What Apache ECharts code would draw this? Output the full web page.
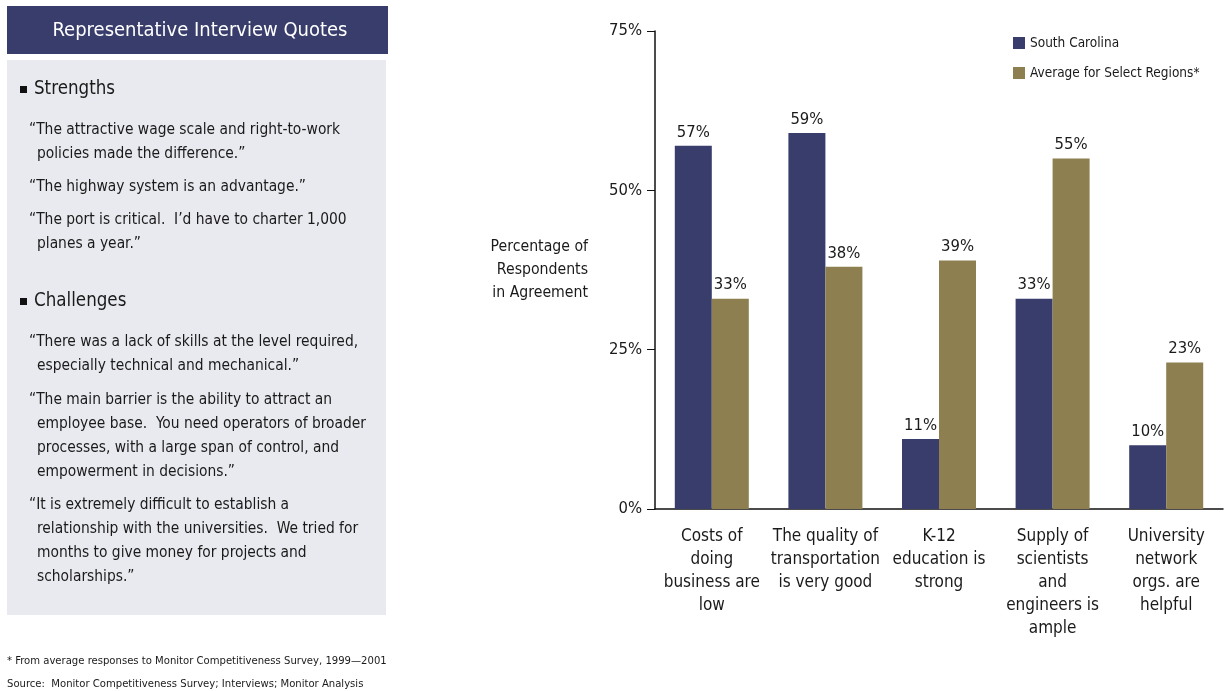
<!DOCTYPE html>
<html>
<head>
<meta charset="utf-8">
<script src="https://cdn.jsdelivr.net/npm/echarts@6/dist/echarts.min.js"></script>
<style>
  html, body { margin: 0; padding: 0; background: #ffffff; }
  #chart { width: 1224px; height: 691px; }
</style>
</head>
<body>
<div id="chart"></div>
<script>
// Survey results: share of respondents agreeing with each statement
const categories = [
  'Costs of\ndoing\nbusiness are\nlow',
  'The quality of\ntransportation\nis very good',
  'K-12\neducation is\nstrong',
  'Supply of\nscientists\nand\nengineers is\nample',
  'University\nnetwork\norgs. are\nhelpful'
];
const southCarolina = [57, 59, 11, 33, 10];
const selectRegions = [33, 38, 39, 55, 23];
const yTicks = { min: 0, max: 75, interval: 25 };

// Interview quotes panel text
const strengths = [
  ['\u201CThe attractive wage scale and right-to-work', 'policies made the difference.\u201D'],
  ['\u201CThe highway system is an advantage.\u201D'],
  ['\u201CThe port is critical.  I\u2019d have to charter 1,000', 'planes a year.\u201D']
];
const challenges = [
  ['\u201CThere was a lack of skills at the level required,', 'especially technical and mechanical.\u201D'],
  ['\u201CThe main barrier is the ability to attract an', 'employee base.  You need operators of broader', 'processes, with a large span of control, and', 'empowerment in decisions.\u201D'],
  ['\u201CIt is extremely difficult to establish a', 'relationship with the universities.  We tried for', 'months to give money for projects and', 'scholarships.\u201D']
];
const footnotes = [
  '* From average responses to Monitor Competitiveness Survey, 1999\u20142001',
  'Source:  Monitor Competitiveness Survey; Interviews; Monitor Analysis'
];

const FONT = '"DejaVu Sans Condensed", "Liberation Sans Narrow", sans-serif';
const NAVY = '#383d6c';
const OLIVE = '#8d7f50';
const TEXT = '#1a1a1a';

// Quotes panel: header bar, grey box, headings, quotes with hanging indent
const graphics = [
  { type: 'rect', shape: { x: 7, y: 6, width: 381, height: 48 }, style: { fill: NAVY } },
  { type: 'text', x: 200, y: 31, style: { text: 'Representative Interview Quotes', fill: '#ffffff', font: '20px ' + FONT, textAlign: 'center', textVerticalAlign: 'middle' } },
  { type: 'rect', shape: { x: 7, y: 60, width: 379, height: 555 }, style: { fill: '#e9eaef' } }
];

function heading(label, y) {
  graphics.push({ type: 'rect', shape: { x: 20, y: y - 3.5, width: 7, height: 7 }, style: { fill: '#111' } });
  graphics.push({ type: 'text', x: 34, y: y, style: { text: label, fill: TEXT, font: '18.6px ' + FONT, textVerticalAlign: 'middle' } });
}
function quotes(list, startY, lineH, gap) {
  let y = startY;
  list.forEach(q => {
    q.forEach((line, i) => {
      graphics.push({ type: 'text', x: i === 0 ? 29 : 37, y: y, style: { text: line, fill: TEXT, font: '15.4px ' + FONT, textVerticalAlign: 'middle' } });
      y += lineH;
    });
    y += gap;
  });
}
heading('Strengths', 89.5);
quotes(strengths, 130, 24, 9);
heading('Challenges', 301.5);
quotes(challenges, 342, 24, 9.5);
footnotes.forEach((t, i) => {
  graphics.push({ type: 'text', x: 7, y: 661 + i * 23, style: { text: t, fill: TEXT, font: '11.2px ' + FONT, textVerticalAlign: 'middle' } });
});
graphics.push({
  type: 'text', x: 588, y: 270,
  style: { text: 'Percentage of\nRespondents\nin Agreement', fill: TEXT, font: '15.7px ' + FONT, textAlign: 'right', textVerticalAlign: 'middle', lineHeight: 23 }
});

const labelStyle = {
  show: true, position: 'top', distance: 5,
  formatter: p => p.value + '%',
  color: TEXT, fontFamily: FONT, fontSize: 16.5
};

const chart = echarts.init(document.getElementById('chart'), null, { renderer: 'canvas' });
chart.setOption({
  animation: false,
  backgroundColor: '#ffffff',
  textStyle: { fontFamily: FONT },
  grid: { left: 655, top: 31, right: 1, bottom: 182, containLabel: false },
  legend: {
    orient: 'vertical', left: 1013, top: 35, padding: 0,
    itemWidth: 12, itemHeight: 12, itemGap: 14,
    icon: 'rect',
    textStyle: { color: TEXT, fontSize: 13.5, fontFamily: FONT, lineHeight: 16 },
    data: ['South Carolina', 'Average for Select Regions*']
  },
  xAxis: {
    type: 'category',
    data: categories,
    axisLine: { lineStyle: { color: '#111', width: 1.5 } },
    axisTick: { show: false },
    axisLabel: { color: TEXT, fontSize: 17, fontFamily: FONT, lineHeight: 23, margin: 16, interval: 0, verticalAlign: 'top' }
  },
  yAxis: {
    type: 'value',
    min: yTicks.min, max: yTicks.max, interval: yTicks.interval,
    axisLine: { show: true, lineStyle: { color: '#111', width: 1.5 } },
    axisTick: { show: true, length: 8, lineStyle: { color: '#111' } },
    axisLabel: { formatter: '{value}%', color: TEXT, fontSize: 16.5, fontFamily: FONT, margin: 13 },
    splitLine: { show: false }
  },
  series: [
    { name: 'South Carolina', type: 'bar', data: southCarolina, barWidth: 37, barGap: '0%', itemStyle: { color: NAVY }, label: labelStyle },
    { name: 'Average for Select Regions*', type: 'bar', data: selectRegions, barWidth: 37, barGap: '0%', itemStyle: { color: OLIVE }, label: labelStyle }
  ],
  graphic: graphics
});
</script>
</body>
</html>
